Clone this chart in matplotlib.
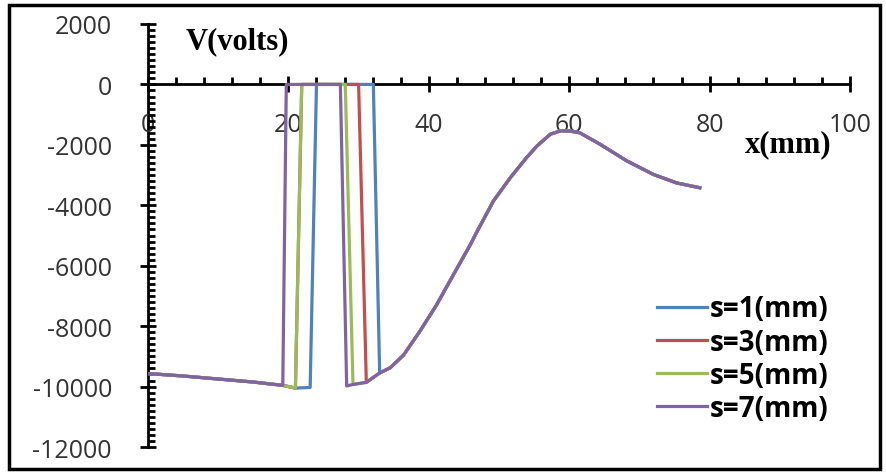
import numpy as np
import matplotlib.pyplot as plt
from matplotlib.patches import Rectangle

plt.rcParams['axes.unicode_minus'] = False

# shared potential profile (x in mm, V in volts)
base_x = [0, 5, 10, 15, 19.2, 21.0, 23.1, 28.3, 29.2, 31.1, 33.0, 34.5, 36.4, 38.7, 41.1,
          43.5, 45.9, 46.8, 49.2, 51.6, 53.9, 55.4, 57.3, 58.7, 60.0, 61.5, 64.4, 68.2,
          72.0, 75.3, 78.6]
base_v = [-9570, -9650, -9750, -9850, -9960, -10050, -10030, -9980, -9930, -9860, -9550,
          -9380, -8960, -8180, -7300, -6300, -5310, -4900, -3860, -3090, -2430, -2040,
          -1650, -1540, -1540, -1600, -1980, -2530, -2980, -3260, -3420]

labels = ["s=1(mm)", "s=3(mm)", "s=5(mm)", "s=7(mm)"]
colors = ["#4F81BD", "#C0504D", "#9BBB59", "#8064A2"]
# electrode region edges: rise bottom, rise top, fall top, fall bottom
rise_lo = [23.1, 21.0, 21.0, 19.2]
rise_hi = [24.0, 21.9, 21.9, 19.7]
fall_hi = [32.1, 30.0, 28.1, 27.4]
fall_lo = [33.0, 31.1, 29.2, 28.3]

bx = np.array(base_x)
bv = np.array(base_v)

fig = plt.figure(figsize=(8.87, 4.77), dpi=100)
ax = fig.add_axes([148/887, 1-448/477, 702/887, 423/477])

for i in range(len(labels)):
    left = bx < rise_lo[i]
    right = bx > fall_lo[i]
    xs = np.concatenate([bx[left], [rise_lo[i], rise_hi[i], fall_hi[i], fall_lo[i]], bx[right]])
    vs = np.concatenate([bv[left], [np.interp(rise_lo[i], bx, bv), 0, 0,
                                    np.interp(fall_lo[i], bx, bv)], bv[right]])
    ax.plot(xs, vs, color=colors[i], lw=2.3, label=labels[i], solid_joinstyle='round')

ax.set_xlim(0, 100)
ax.set_ylim(-12000, 2000)
ax.spines['top'].set_visible(False)
ax.spines['right'].set_visible(False)
ax.spines['left'].set_position(('data', 0))
ax.spines['bottom'].set_position(('data', 0))
for s in ['left', 'bottom']:
    ax.spines[s].set_linewidth(2)
    ax.spines[s].set_zorder(1)

ax.set_xticks(np.arange(0, 101, 20))
ax.set_xticks(np.arange(0, 101, 4), minor=True)
ax.set_yticks(np.arange(-12000, 2001, 2000))
ax.set_yticks(np.arange(-12000, 2001, 200), minor=True)
ax.tick_params(axis='both', which='major', direction='inout', length=12, width=2,
               labelsize=18, labelcolor='#333333')
ax.tick_params(axis='both', which='minor', direction='in', length=5, width=2)
ax.tick_params(axis='x', which='major', pad=14)
ax.tick_params(axis='y', which='major', pad=20)
for t in ax.get_xticklabels() + ax.get_yticklabels():
    t.set_fontfamily('Open Sans')

ax.text(5.3, 1450, "V(volts)", fontsize=22, fontweight='bold', family='Liberation Serif',
        va='center', ha='left')
ax.text(85.0, -1950, "x(mm)", fontsize=22, fontweight='bold', family='Liberation Serif',
        va='center', ha='left')

leg = ax.legend(loc='upper left', bbox_to_anchor=(0.69, 0.42), frameon=False,
                prop={'family': 'Open Sans', 'weight': 'bold', 'size': 20},
                handlelength=1.8, handletextpad=0.1, labelspacing=0.15)

fig.patches.append(Rectangle((9/887, 1-470/477), 871/887, 464/477, transform=fig.transFigure,
                             fill=False, edgecolor='black', lw=2.5))

fig.savefig("out.png", dpi=100)
